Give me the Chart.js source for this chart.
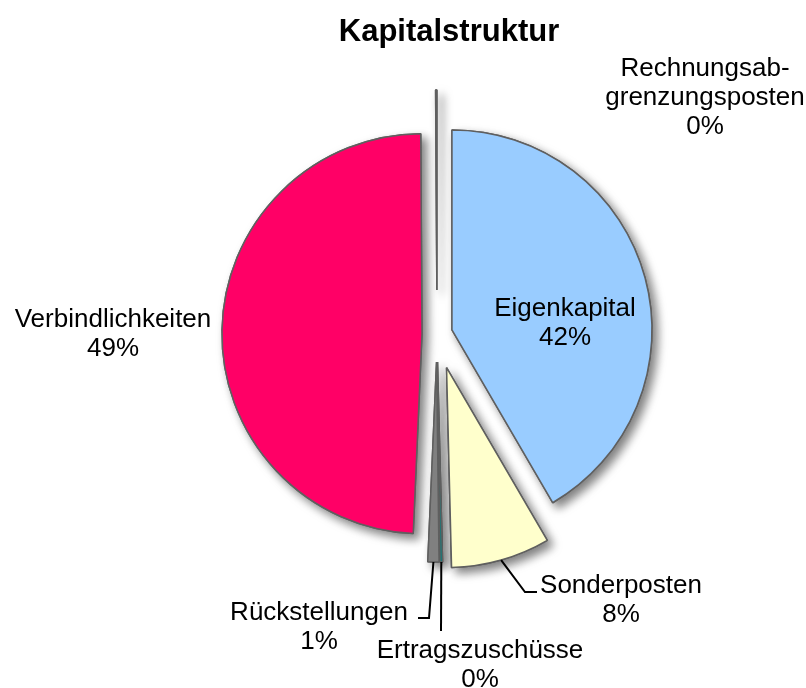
<!DOCTYPE html>
<html>
<head>
<meta charset="utf-8">
<script src="https://cdn.jsdelivr.net/npm/chart.js@4"></script>
<style>
  html, body { margin: 0; padding: 0; background: #fff; }
  #wrap { width: 806px; height: 688px; position: relative; }
</style>
</head>
<body>
<div id="wrap"><canvas id="kapital"></canvas></div>
<script>
// Kapitalstruktur data (shares in percent)
const categories = ['Eigenkapital', 'Sonderposten', 'Ertragszuschüsse', 'Rückstellungen', 'Verbindlichkeiten', ['Rechnungsab-', 'grenzungsposten']];
const shares = [41.6, 8.0, 0.2, 0.9, 49.2, 0.1];
const colors = ['#99CCFF', '#FFFFCC', '#008080', '#808080', '#FF0066', '#C0C0C0'];

// how far each slice is pulled out of the pie (px)
const explode = [15.5, 35, 28, 28, 15, 44];

// label text block (centre x, first baseline) relative to the pie centre
const labelAt = [[128, -18], [184, 259], [43, 324], [-118, 286], [-324, -7], [268, -258]];
// leader line elbow / end relative to pie centre (null = no leader)
const leaders = [null, [[88, 258], [100, 258]], [[4, 297], [4, 297]], [[-8, 284], [-19, 284]], null, null];

const FONT = '"Liberation Sans", Arial, sans-serif';

function drawExploded(ctx, arc, d) {
    const mid = (arc.startAngle + arc.endAngle) / 2;
    ctx.save();
    ctx.translate(Math.cos(mid) * d, Math.sin(mid) * d);
    arc.draw(ctx);
    ctx.restore();
}

const explodePlugin = {
    id: 'explodeShadow',
    beforeDatasetDraw(chart, args) {
        const ctx = chart.ctx;
        const arcs = args.meta.data;
        // first pass with a soft drop shadow, second pass clean on top
        ctx.save();
        ctx.shadowColor = 'rgba(0,0,0,0.5)';
        ctx.shadowBlur = 10;
        ctx.shadowOffsetX = 5;
        ctx.shadowOffsetY = 5;
        arcs.forEach((arc, i) => drawExploded(ctx, arc, explode[i]));
        ctx.restore();
        arcs.forEach((arc, i) => drawExploded(ctx, arc, explode[i]));
        return false;
    }
};

const labelPlugin = {
    id: 'sliceLabels',
    afterDraw(chart) {
        const ctx = chart.ctx;
        const meta = chart.getDatasetMeta(0);
        const total = shares.reduce((s, v) => s + v, 0);

        // title
        ctx.save();
        ctx.fillStyle = '#000';
        ctx.textAlign = 'center';
        ctx.textBaseline = 'alphabetic';
        ctx.font = 'bold 31px ' + FONT;
        ctx.fillText('Kapitalstruktur', 449, 41);

        ctx.font = '26px ' + FONT;
        meta.data.forEach((arc, i) => {
            const cx = arc.x, cy = arc.y;
            const mid = (arc.startAngle + arc.endAngle) / 2;

            if (leaders[i]) {
                const r = arc.outerRadius + explode[i];
                ctx.beginPath();
                ctx.moveTo(cx + Math.cos(mid) * r, cy + Math.sin(mid) * r);
                leaders[i].forEach(p => ctx.lineTo(cx + p[0], cy + p[1]));
                ctx.strokeStyle = '#000';
                ctx.lineWidth = 2;
                ctx.stroke();
            }

            const name = categories[i];
            const lines = (Array.isArray(name) ? name : [name]).concat(Math.round(shares[i] / total * 100) + '%');
            lines.forEach((t, k) => {
                ctx.fillText(t, cx + labelAt[i][0], cy + labelAt[i][1] + k * 29);
            });
        });
        ctx.restore();
    }
};

new Chart(document.getElementById('kapital'), {
    type: 'pie',
    data: {
        labels: categories,
        datasets: [{
            data: shares,
            backgroundColor: colors,
            borderColor: '#5f5f5f',
            borderWidth: 1.5
        }]
    },
    options: {
        responsive: true,
        maintainAspectRatio: false,
        animation: false,
        events: [],
        radius: 200,
        layout: { padding: { left: 68, right: 0, top: 0, bottom: 20 } },
        plugins: {
            legend: { display: false },
            title: { display: false },
            tooltip: { enabled: false }
        }
    },
    plugins: [explodePlugin, labelPlugin]
});
</script>
</body>
</html>
